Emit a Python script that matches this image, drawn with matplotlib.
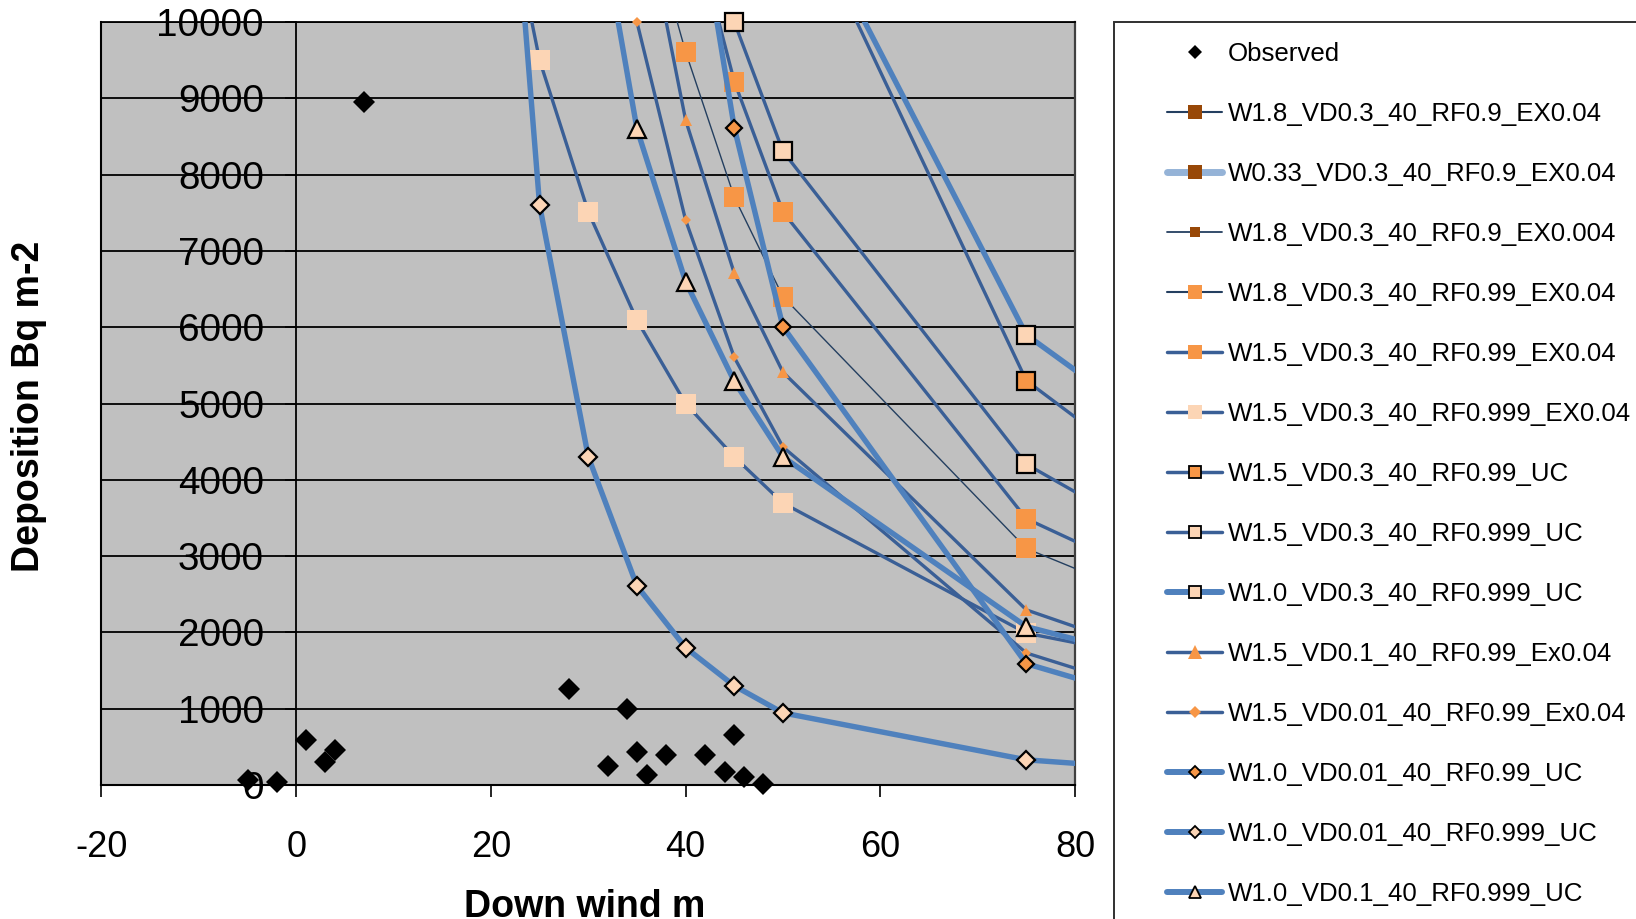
import numpy as np
import matplotlib
matplotlib.use('Agg')
import matplotlib.pyplot as plt
from matplotlib.lines import Line2D
from matplotlib.patches import Rectangle

plt.rcParams['font.family'] = ['Liberation Sans', 'DejaVu Sans']
plt.rcParams['axes.unicode_minus'] = False

# ---------------- data ----------------
x_ticks = [-20, 0, 20, 40, 60, 80]
y_ticks = [0, 1000, 2000, 3000, 4000, 5000, 6000, 7000, 8000, 9000, 10000]

obs_x = [-5, -2, 1, 3, 4, 7, 28, 32, 34, 35, 36, 38, 42, 44, 45, 46, 48]
obs_y = [65, 35, 590, 305, 459, 8950, 1260, 250, 990, 430, 130, 390, 395, 170, 655, 110, 10]

# series not visible in the plotted window
w18_rf09_ex004_x, w18_rf09_ex004_y = [], []
w033_rf09_x, w033_rf09_y = [], []
w18_rf09_ex0004_x, w18_rf09_ex0004_y = [], []

w18_rf099_x = [35, 40, 45, 50, 75, 100]
w18_rf099_y = [11870, 9610, 7705, 6400, 3100, 1790]

w15_rf099_x = [40, 45, 50, 75, 100]
w15_rf099_y = [11680, 9220, 7510, 3490, 2010]

w15_rf0999_x = [20, 25, 30, 35, 40, 45, 50, 75, 100]
w15_rf0999_y = [12640, 9500, 7513, 6092, 5000, 4300, 3695, 1990, 1365]

w15_rf099_uc_x = [50, 75, 100]
w15_rf099_uc_y = [12050, 5300, 2910]

w15_rf0999_uc_x = [40, 45, 50, 75, 100]
w15_rf0999_uc_y = [12200, 10000, 8305, 4205, 2390]

w10_vd03_uc_x = [50, 75, 100]
w10_vd03_uc_y = [12075, 5900, 3590]

w15_vd01_x = [35, 40, 45, 50, 75, 100]
w15_vd01_y = [11940, 8715, 6707, 5410, 2295, 1195]

w15_vd001_x = [30, 35, 40, 45, 50, 75, 100]
w15_vd001_y = [13500, 10000, 7404, 5605, 4430, 1730, 730]

w10_vd001_rf099_x = [40, 45, 50, 75, 100]
w10_vd001_rf099_y = [12515, 8615, 6006, 1590, 650]

w10_vd001_rf0999_x = [20, 25, 30, 35, 40, 45, 50, 75, 100]
w10_vd001_rf0999_y = [15610, 7600, 4303, 2609, 1800, 1300, 945, 330, 100]

w10_vd01_rf0999_x = [30, 35, 40, 45, 50, 75, 100]
w10_vd01_rf0999_y = [12240, 8600, 6598, 5290, 4300, 2076, 1246]

labels = ["Observed",
          "W1.8_VD0.3_40_RF0.9_EX0.04",
          "W0.33_VD0.3_40_RF0.9_EX0.04",
          "W1.8_VD0.3_40_RF0.9_EX0.004",
          "W1.8_VD0.3_40_RF0.99_EX0.04",
          "W1.5_VD0.3_40_RF0.99_EX0.04",
          "W1.5_VD0.3_40_RF0.999_EX0.04",
          "W1.5_VD0.3_40_RF0.99_UC",
          "W1.5_VD0.3_40_RF0.999_UC",
          "W1.0_VD0.3_40_RF0.999_UC",
          "W1.5_VD0.1_40_RF0.99_Ex0.04",
          "W1.5_VD0.01_40_RF0.99_Ex0.04",
          "W1.0_VD0.01_40_RF0.99_UC",
          "W1.0_VD0.01_40_RF0.999_UC",
          "W1.0_VD0.1_40_RF0.999_UC"]

# ---------------- styles ----------------
ORANGE = '#F79646'
PEACH = '#FCD5B5'
BROWN = '#984807'
THICK = '#4F81BD'
MED = '#3A5F96'
THIN = '#243F60'
LIGHT = '#95B3D7'

# (line color, plot lw, legend lw, marker, face, edge, plot ms, plot mew, legend ms, legend mew)
styles = [
    (None, 0, 0, 'D', 'black', 'black', 11.2, 0, 7.1, 0),
    (THIN, 1.2, 1.5, 's', BROWN, BROWN, 10, 0, 10, 0),
    (LIGHT, 4.5, 5.0, 's', BROWN, BROWN, 10, 0, 10, 0),
    (THIN, 0.8, 1.3, 's', BROWN, BROWN, 7, 0, 7.5, 0),
    (THIN, 1.0, 1.5, 's', ORANGE, ORANGE, 15, 0, 10, 0),
    (MED, 2.4, 2.5, 's', ORANGE, ORANGE, 15, 0, 10, 0),
    (MED, 2.4, 2.5, 's', PEACH, PEACH, 15, 0, 10, 0),
    (MED, 2.4, 2.5, 's', ORANGE, 'black', 13, 1.6, 8.3, 1.3),
    (MED, 2.4, 2.5, 's', PEACH, 'black', 13, 1.6, 8.3, 1.3),
    (THICK, 3.9, 4.3, 's', PEACH, 'black', 13, 1.6, 8.3, 1.3),
    (MED, 2.4, 2.5, '^', ORANGE, ORANGE, 8.5, 0, 9.4, 0),
    (MED, 2.4, 2.5, 'D', ORANGE, ORANGE, 5.6, 0, 6.6, 0),
    (THICK, 3.9, 4.3, 'D', ORANGE, 'black', 8.2, 1.6, 5.8, 1.3),
    (THICK, 3.9, 4.3, 'D', PEACH, 'black', 8.7, 1.6, 5.8, 1.3),
    (THICK, 3.9, 4.3, '^', PEACH, 'black', 13, 1.6, 8.3, 1.3),
]

series_x = [obs_x, w18_rf09_ex004_x, w033_rf09_x, w18_rf09_ex0004_x, w18_rf099_x,
            w15_rf099_x, w15_rf0999_x, w15_rf099_uc_x, w15_rf0999_uc_x, w10_vd03_uc_x,
            w15_vd01_x, w15_vd001_x, w10_vd001_rf099_x, w10_vd001_rf0999_x, w10_vd01_rf0999_x]
series_y = [obs_y, w18_rf09_ex004_y, w033_rf09_y, w18_rf09_ex0004_y, w18_rf099_y,
            w15_rf099_y, w15_rf0999_y, w15_rf099_uc_y, w15_rf0999_uc_y, w10_vd03_uc_y,
            w15_vd01_y, w15_vd001_y, w10_vd001_rf099_y, w10_vd001_rf0999_y, w10_vd01_rf0999_y]

# ---------------- figure ----------------
fig = plt.figure(figsize=(16.36, 9.19), dpi=100)
fig.patch.set_facecolor('white')
ax = fig.add_axes([0.06204, 0.14581, 0.59506, 0.83025])
ax.set_facecolor('#C0C0C0')
ax.set_xlim(-20, 80)
ax.set_ylim(0, 10000)

ax.yaxis.grid(True, color='black', lw=1.3)
ax.set_axisbelow(True)

for (xs, ys, st) in zip(series_x, series_y, styles):
    lc, lw, llw, mk, fc, ec, ms, mew, lms, lmew = st
    xs = np.asarray(xs, dtype=float)
    ys = np.asarray(ys, dtype=float)
    if len(xs) == 0:
        continue
    if lc is not None:
        ax.plot(xs, ys, color=lc, lw=lw, solid_capstyle='butt', solid_joinstyle='round', zorder=3)
    m = (ys <= 10000) & (ys >= 0) & (xs <= 80) & (xs >= -20)
    ax.plot(xs[m], ys[m], ls='none', marker=mk, markersize=ms, markerfacecolor=fc,
            markeredgecolor=ec, markeredgewidth=mew, clip_on=False, zorder=3)

# axes frame and axis at x=0
ax.spines['left'].set_position(('data', 0))
ax.spines['left'].set_color('black')
ax.spines['left'].set_linewidth(1.3)
ax.spines['bottom'].set_color('black')
ax.spines['bottom'].set_linewidth(1.5)
ax.spines['top'].set_color('black')
ax.spines['top'].set_linewidth(1.3)
ax.spines['right'].set_color('#404040')
ax.spines['right'].set_linewidth(1.6)
ax.axvline(-20, color='black', lw=1.5, clip_on=False, zorder=1.5)

ax.set_xticks(x_ticks)
ax.set_yticks(y_ticks)
ax.set_xticklabels([str(v) for v in x_ticks])
ax.set_yticklabels([str(v) for v in y_ticks])
ax.tick_params(axis='y', direction='out', length=7.7, width=1.2, pad=15.5,
               labelsize=27.8, colors='black')
ax.tick_params(axis='x', direction='out', length=8.6, width=1.2, pad=24,
               labelsize=26, colors='black')

ax.set_xlabel('Down wind m', fontsize=27, fontweight='bold')
ax.xaxis.set_label_coords((585 - 101.5) / 973.5, (785 - 917) / 763)
ax.xaxis.label.set_va('baseline')
ax.set_ylabel('Deposition Bq m-2', fontsize=27, fontweight='bold')
ax.yaxis.set_label_coords((29 - 101.5) / 973.5, (785 - 406) / 763)
ax.yaxis.label.set_va('center')

# ---------------- legend ----------------
handles = []
for st in styles:
    lc, lw, llw, mk, fc, ec, ms, mew, lms, lmew = st
    handles.append(Line2D([], [], color=lc if lc else 'none', lw=llw,
                          ls='-' if lc else 'none', marker=mk, markersize=lms,
                          markerfacecolor=fc, markeredgecolor=ec, markeredgewidth=lmew,
                          solid_capstyle='round'))

fig.add_artist(Rectangle((1114 / 1636, -0.1), 1.0, (1 - 22 / 919) + 0.1,
                         transform=fig.transFigure, fill=False,
                         edgecolor='#303030', lw=1.4))
fig.legend(handles, labels, loc='upper left', bbox_to_anchor=(1167 / 1636, 1 - 42 / 919),
           bbox_transform=fig.transFigure, frameon=False, fontsize=18.65,
           handlelength=2.13, handletextpad=0.23, labelspacing=1.39,
           borderpad=0, borderaxespad=0, numpoints=1)

fig.savefig('out.png', dpi=100)
